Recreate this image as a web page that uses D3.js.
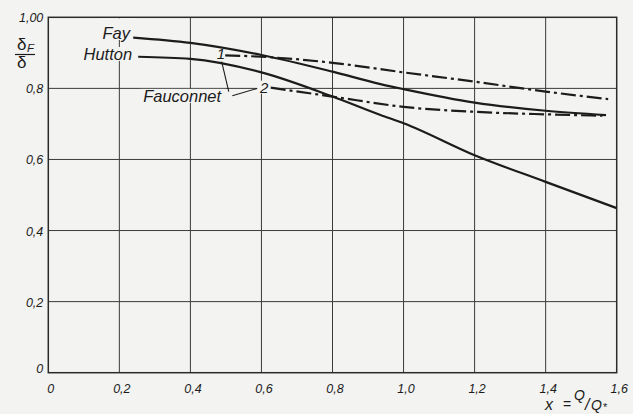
<!DOCTYPE html>
<html>
<head>
<meta charset="utf-8">
<script src="https://cdn.jsdelivr.net/npm/d3@7"></script>
<style>
  html, body { margin: 0; padding: 0; background: #f3f3f1; }
  svg { display: block; }
  text { font-family: "Liberation Sans", Arial, sans-serif; font-style: italic; fill: #1c1c1c; }
</style>
</head>
<body>
<div id="chart"></div>
<script>
// ticks and labels (comma decimals as in the original)
const xTicks = [0, 0.2, 0.4, 0.6, 0.8, 1.0, 1.2, 1.4, 1.6];
const xTickLabels = ['0', '0,2', '0,4', '0,6', '0,8', '1,0', '1,2', '1,4', '1,6'];
const yTicks = [0, 0.2, 0.4, 0.6, 0.8, 1.0];
const yTickLabels = ['0', '0,2', '0,4', '0,6', '0,8', '1,00'];

// curves
const fayX = [0.239, 0.4, 0.6, 0.8, 0.935, 1.0, 1.2, 1.4, 1.57];
const fayY = [0.943, 0.928, 0.894, 0.847, 0.812, 0.798, 0.760, 0.737, 0.725];

const huttonX = [0.253, 0.4, 0.6, 0.8, 0.935, 1.0, 1.2, 1.4, 1.6];
const huttonY = [0.889, 0.883, 0.845, 0.777, 0.725, 0.702, 0.612, 0.537, 0.463];

const fauc1X = [0.498, 0.6, 0.8, 1.0, 1.2, 1.4, 1.576];
const fauc1Y = [0.893, 0.889, 0.872, 0.845, 0.819, 0.791, 0.770];

const fauc2X = [0.626, 0.8, 1.0, 1.2, 1.4, 1.56];
const fauc2Y = [0.802, 0.777, 0.748, 0.734, 0.727, 0.723];

const width = 633;
const height = 414;
const margin = { top: 17.3, right: 16.3, bottom: 41.3, left: 48.3 };
const innerW = width - margin.left - margin.right;
const innerH = height - margin.top - margin.bottom;
const bg = '#f3f3f1';
const ink = '#1c1c1c';

const svg = d3.select('#chart').append('svg')
    .attr('width', width)
    .attr('height', height);

svg.append('rect').attr('width', width).attr('height', height).attr('fill', bg);

const g = svg.append('g').attr('transform', `translate(${margin.left},${margin.top})`);

const x = d3.scaleLinear().domain([0, 1.6]).range([0, innerW]);
const y = d3.scaleLinear().domain([0, 1.0]).range([innerH, 0]);

// grid
g.append('g').selectAll('line').data(xTicks.slice(1, -1)).join('line')
    .attr('x1', d => x(d)).attr('x2', d => x(d))
    .attr('y1', 0).attr('y2', innerH)
    .attr('stroke', '#3a3a3a').attr('stroke-width', 1);
g.append('g').selectAll('line').data(yTicks.slice(1, -1)).join('line')
    .attr('x1', 0).attr('x2', innerW)
    .attr('y1', d => y(d)).attr('y2', d => y(d))
    .attr('stroke', '#3a3a3a').attr('stroke-width', 1);

// frame
g.append('rect')
    .attr('width', innerW).attr('height', innerH)
    .attr('fill', 'none').attr('stroke', '#2a2a2a').attr('stroke-width', 1.5);

// tick labels through axes
const xAxis = g.append('g')
    .attr('transform', `translate(0,${innerH})`)
    .call(d3.axisBottom(x).tickValues(xTicks).tickSize(0).tickPadding(11)
        .tickFormat((d, i) => xTickLabels[i]));
const yAxis = g.append('g')
    .call(d3.axisLeft(y).tickValues(yTicks).tickSize(0).tickPadding(5)
        .tickFormat((d, i) => yTickLabels[i]));
[xAxis, yAxis].forEach(a => {
    a.select('.domain').remove();
    a.selectAll('text')
        .style('font-family', '"Liberation Sans", Arial, sans-serif')
        .style('font-style', 'italic')
        .style('font-size', '12.5px')
        .attr('fill', ink);
});
xAxis.selectAll('text').attr('dx', 2);
yAxis.selectAll('text').attr('dy', (d) => d === 0 ? '-0.05em' : '0.36em');

// annotation text (placed in data units)
const ann = g.append('g');
const labels = [
    { t: 'Fay', x: 0.230, y: 0.939, anchor: 'end' },
    { t: 'Hutton', x: 0.236, y: 0.880, anchor: 'end' },
    { t: 'Fauconnet', x: 0.267, y: 0.762, anchor: 'start' },
    { t: '1', x: 0.474, y: 0.883, anchor: 'start' },
    { t: '2', x: 0.596, y: 0.788, anchor: 'start' }
];
const texts = ann.selectAll('text').data(labels).join('text')
    .attr('x', d => x(d.x)).attr('y', d => y(d.y))
    .attr('text-anchor', d => d.anchor)
    .style('font-size', d => d.t.length === 1 ? '15px' : '16.5px')
    .text(d => d.t);

// blank the grid behind labels
texts.each(function (d) {
    const b = this.getBBox();
    let top = b.y + 2;
    if (d.t === 'Fay') top = 1;
    ann.insert('rect', 'text')
        .attr('x', b.x - 3).attr('y', top)
        .attr('width', b.width + 6).attr('height', b.y + b.height - 2 - top)
        .attr('fill', bg);
});
// fill gap between Fay and Hutton
ann.insert('rect', 'text')
    .attr('x', x(0.21)).attr('y', 1)
    .attr('width', x(0.245) - x(0.21)).attr('height', y(0.88) - 14)
    .attr('fill', bg);

// leader lines
const leaders = [
    [[0.488, 0.875], [0.508, 0.791]],
    [[0.518, 0.779], [0.588, 0.800]]
];
g.append('g').selectAll('line').data(leaders).join('line')
    .attr('x1', d => x(d[0][0])).attr('y1', d => y(d[0][1]))
    .attr('x2', d => x(d[1][0])).attr('y2', d => y(d[1][1]))
    .attr('stroke', ink).attr('stroke-width', 1.1);

// curves
const line = d3.line().x(d => x(d[0])).y(d => y(d[1])).curve(d3.curveMonotoneX);
const curves = [
    { xs: fayX, ys: fayY, dash: null },
    { xs: huttonX, ys: huttonY, dash: null },
    { xs: fauc1X, ys: fauc1Y, dash: '15,4,3,4' },
    { xs: fauc2X, ys: fauc2Y, dash: '15,4,3,4' }
];
g.append('g').selectAll('path').data(curves).join('path')
    .attr('d', d => line(d.xs.map((v, i) => [v, d.ys[i]])))
    .attr('fill', 'none')
    .attr('stroke', ink)
    .attr('stroke-width', 2.2)
    .attr('stroke-dasharray', d => d.dash);

// y axis title: delta_F over delta
const yt = svg.append('g');
yt.append('text').attr('x', 17).attr('y', 49.5).style('font-size', '17px').style('font-style', 'normal').text('δ');
yt.append('text').attr('x', 27).attr('y', 52).style('font-size', '11.5px').text('F');
yt.append('line').attr('x1', 15).attr('x2', 35).attr('y1', 54.5).attr('y2', 54.5)
    .attr('stroke', ink).attr('stroke-width', 1.2);
yt.append('text').attr('x', 17).attr('y', 67.5).style('font-size', '17px').style('font-style', 'normal').text('δ');

// x axis title: x = Q/Q*
const xt = svg.append('g');
xt.append('text').attr('x', 545).attr('y', 410).style('font-size', '16px').text('x');
xt.append('text').attr('x', 563).attr('y', 409).style('font-size', '14px').style('font-style', 'normal').text('=');
xt.append('text').attr('x', 574).attr('y', 400).style('font-size', '14px').text('Q');
xt.append('text').attr('x', 585).attr('y', 410).style('font-size', '16px').text('/');
xt.append('text').attr('x', 591).attr('y', 410).style('font-size', '14px').text('Q');
xt.append('text').attr('x', 603).attr('y', 411).style('font-size', '11px').style('font-style', 'normal').text('*');
</script>
</body>
</html>
